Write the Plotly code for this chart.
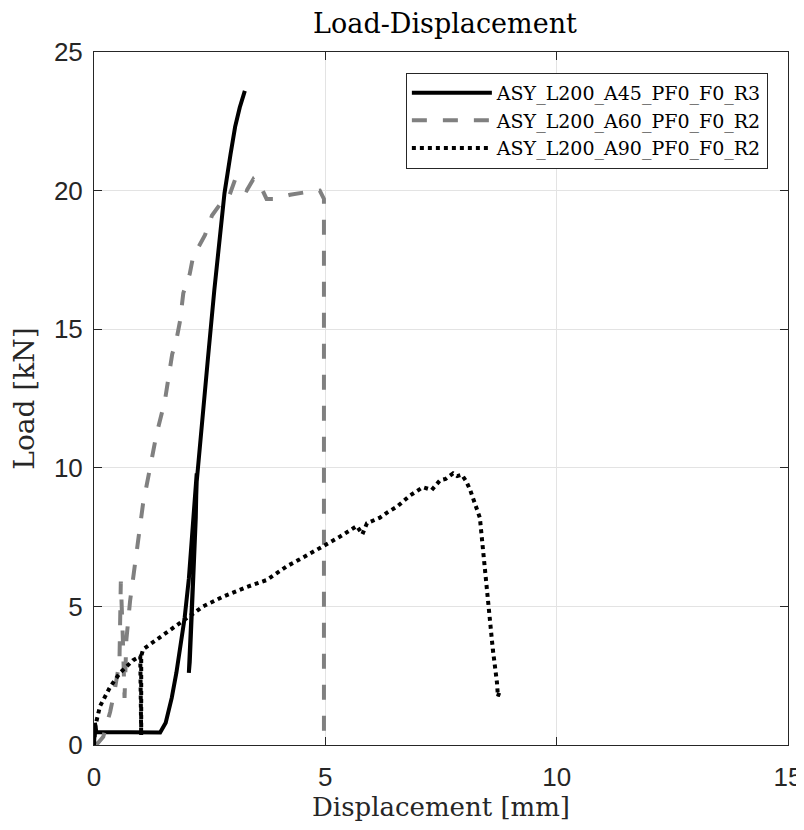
import plotly.graph_objects as go

# A45 (solid black)
a45_x = [0.0, 0.02, 0.05, 0.6, 1.2, 1.43, 1.55, 1.68, 1.78, 1.86, 1.96, 2.05, 2.12, 2.18, 2.22,
         2.2, 2.15, 2.1, 2.07, 2.05, 2.08, 2.13, 2.18, 2.22, 2.27, 2.36, 2.46, 2.6, 2.72, 2.82,
         2.95, 3.05, 3.15, 3.26]
a45_y = [0.0, 0.8, 0.47, 0.46, 0.45, 0.45, 0.8, 1.7, 2.6, 3.4, 4.6, 6.0, 7.5, 8.8, 9.8,
         8.2, 6.0, 4.0, 3.0, 2.6, 3.6, 5.5, 7.5, 9.5, 10.5, 12.2, 13.9, 16.4, 18.4, 19.9,
         21.3, 22.3, 23.0, 23.6]

# A60 (dashed grey)
a60_x = [0.05, 0.2, 0.35, 0.45, 0.55, 0.58, 0.62, 0.66, 0.7, 0.78, 0.86, 0.95, 1.06, 1.2,
         1.35, 1.53, 1.62, 1.69, 1.78, 1.86, 1.93, 2.07, 2.14, 2.29, 2.4, 2.55, 2.72, 2.9,
         3.05, 3.15, 3.3, 3.44, 3.52, 3.59, 3.73, 3.9, 4.24, 4.6, 4.88, 4.97, 4.97]
a60_y = [0.0, 0.3, 1.2, 2.0, 3.0, 5.9, 4.0, 1.7, 3.8, 5.2, 6.2, 7.3, 8.7, 9.9,
         11.2, 12.4, 13.4, 14.1, 14.6, 15.3, 16.3, 17.0, 17.6, 18.1, 18.4, 19.1, 19.5, 19.7,
         20.4, 20.1, 20.0, 20.4, 20.2, 20.2, 19.7, 19.7, 19.85, 19.95, 20.0, 19.7, 0.0]

# A90 (dotted black)
a90_x = [0.0, 0.03, 0.13, 0.35, 0.56, 0.84, 1.0, 1.02, 1.02, 1.06, 1.36, 1.86, 2.36, 2.79,
         3.3, 3.73, 4.02, 4.17, 4.45, 4.95, 5.3, 5.68, 5.8, 5.9, 6.18, 6.35, 6.55, 6.83,
         7.11, 7.3, 7.48, 7.6, 7.76, 7.85, 7.95, 8.05, 8.13, 8.34, 8.41, 8.49, 8.56, 8.62,
         8.71, 8.73, 8.78]
a90_y = [0.0, 0.7, 1.4, 2.1, 2.6, 3.05, 3.2, 0.35, 3.2, 3.45, 3.8, 4.4, 5.0, 5.35,
         5.7, 5.95, 6.3, 6.45, 6.7, 7.15, 7.5, 7.9, 7.6, 8.0, 8.2, 8.4, 8.6, 9.0,
         9.3, 9.2, 9.55, 9.6, 9.8, 9.7, 9.75, 9.5, 9.2, 8.2, 7.0, 5.85, 4.65, 3.45,
         2.25, 1.75, 2.0]

names = ["ASY_L200_A45_PF0_F0_R3", "ASY_L200_A60_PF0_F0_R2", "ASY_L200_A90_PF0_F0_R2"]
x_ticks = [0, 5, 10, 15]
y_ticks = [0, 5, 10, 15, 20, 25]

SERIF = "DejaVu Serif, serif"
SANS = "Liberation Sans, Arial, sans-serif"

fig = go.Figure()
fig.add_trace(go.Scatter(x=a45_x, y=a45_y, mode="lines", name=names[0],
                         line=dict(color="black", width=4)))
fig.add_trace(go.Scatter(x=a60_x, y=a60_y, mode="lines", name=names[1],
                         line=dict(color="#808080", width=4, dash="15px,16px")))
fig.add_trace(go.Scatter(x=a90_x, y=a90_y, mode="lines", name=names[2],
                         line=dict(color="black", width=4, dash="4px,4px")))

axis_common = dict(showline=True, linecolor="#262626", linewidth=1, mirror="ticks",
                   ticks="inside", ticklen=8, tickcolor="#262626",
                   showgrid=True, gridcolor="#e3e3e3", gridwidth=1, zeroline=False,
                   automargin=False,
                   tickfont=dict(family=SANS, size=26, color="#262626"))

fig.update_xaxes(range=[0, 15], tickvals=x_ticks, ticklabelstandoff=9, **axis_common,
                 title=dict(text="Displacement [mm]",
                            font=dict(family=SERIF, size=26, color="#262626"),
                            standoff=4))
fig.update_yaxes(range=[0, 25], tickvals=y_ticks, ticklabelstandoff=5, **axis_common,
                 title=dict(text="Load [kN]",
                            font=dict(family=SERIF, size=28, color="#262626"),
                            standoff=11))

fig.update_layout(
    width=796, height=822,
    margin=dict(l=86, r=16, t=44, b=85),
    plot_bgcolor="white", paper_bgcolor="white",
    title=dict(text="Load-Displacement", x=0.549, xanchor="center", y=0.9805, yanchor="middle",
               font=dict(family=SERIF, size=27, color="black")),
    legend=dict(x=0.971, y=0.970, xanchor="right", yanchor="top",
                bgcolor="white", bordercolor="#262626", borderwidth=1,
                font=dict(family=SERIF, size=19, color="black"),
                itemwidth=80, tracegroupgap=0),
    showlegend=True,
)

fig.write_html("out.html")
